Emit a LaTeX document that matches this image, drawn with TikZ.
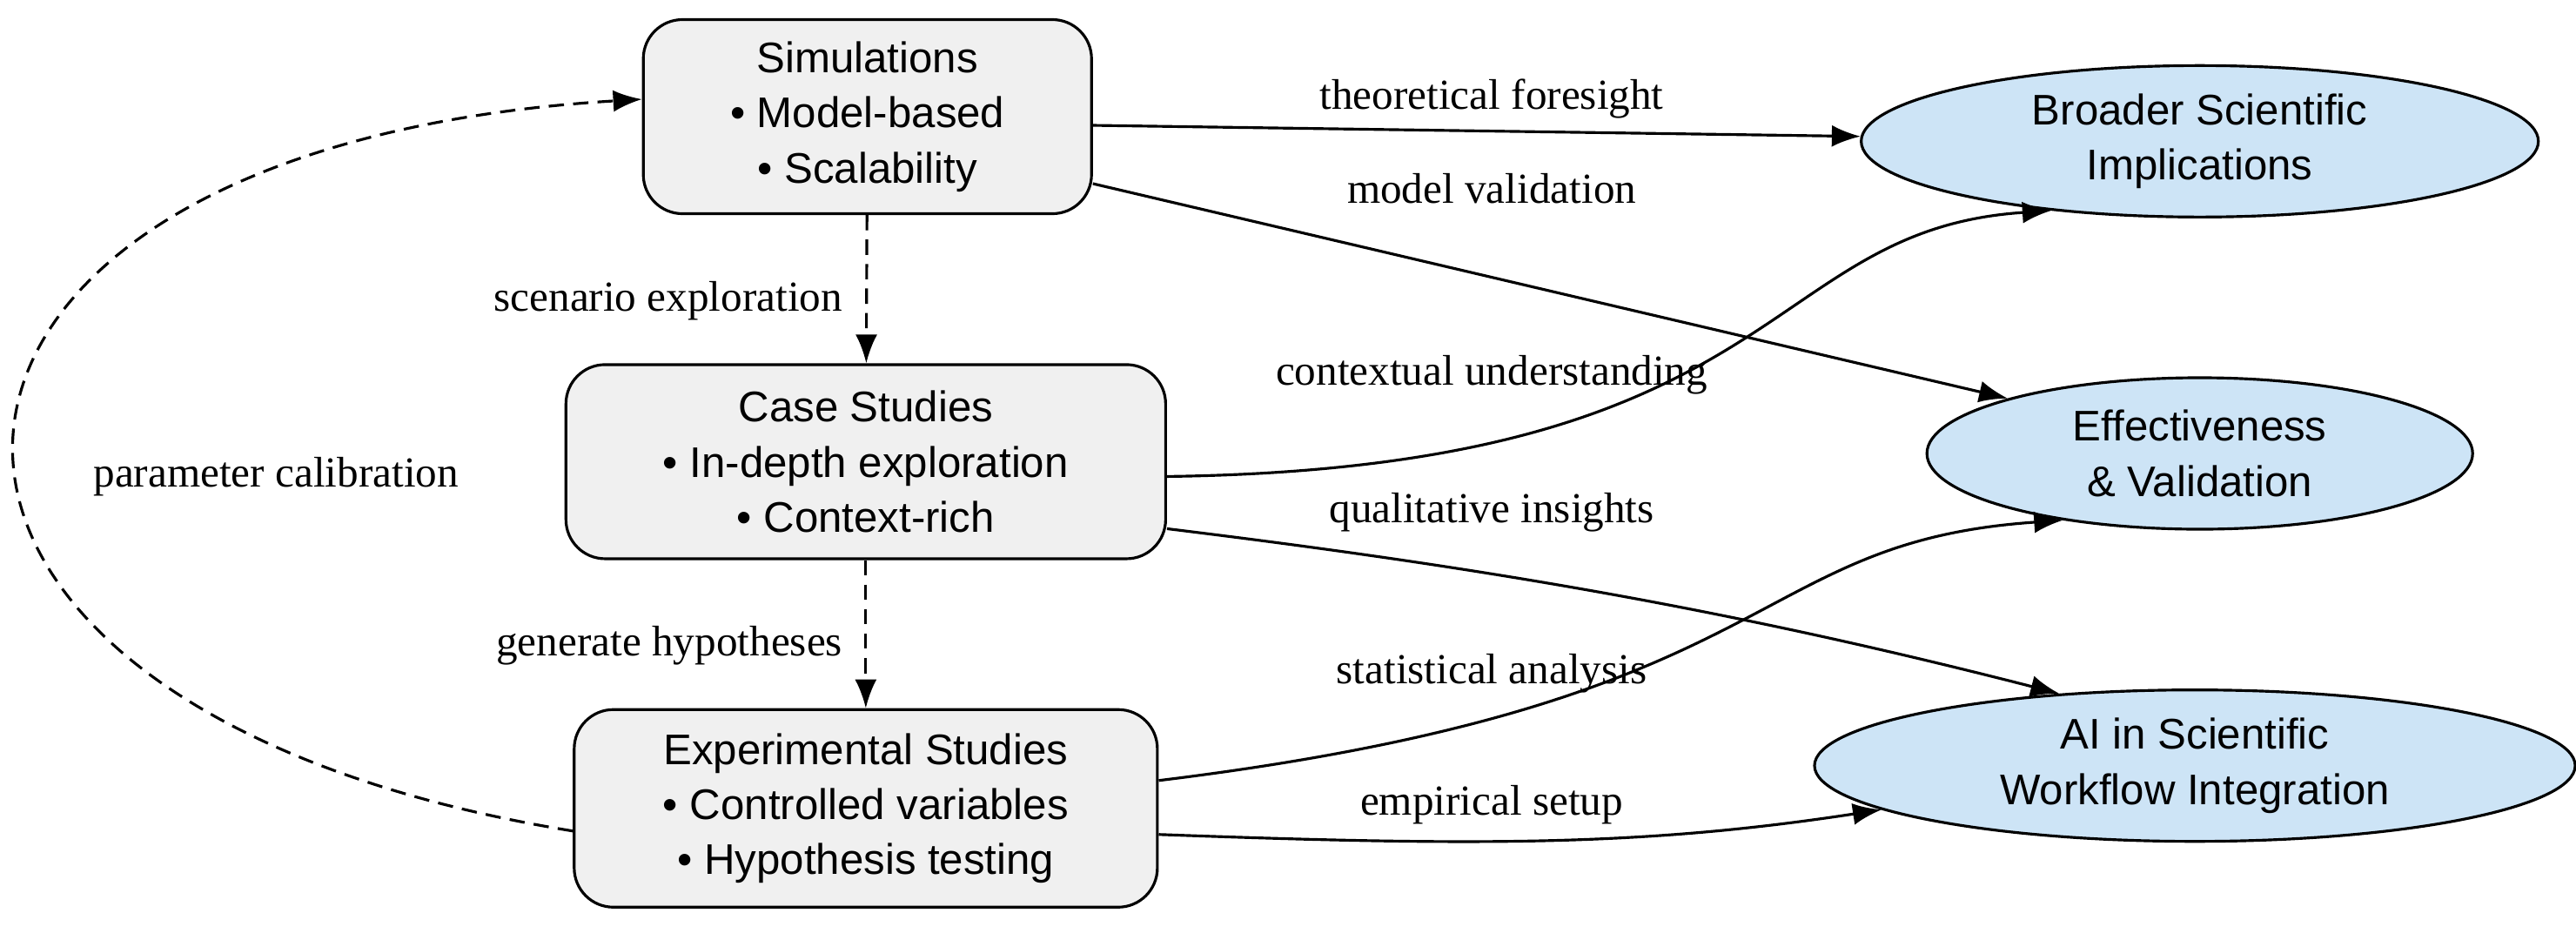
\documentclass[tikz,border=0pt]{standalone}
\usepackage{fontspec}
\usetikzlibrary{shapes.geometric,arrows.meta}
\setmainfont{Liberation Serif}
\newfontfamily\sansf{Liberation Sans}
\begin{document}
\begin{tikzpicture}[x=0.01888cm,y=-0.01888cm,
  box/.style={draw=black,line width=0.9pt,rounded corners=0.45cm,fill=gray!12,align=center,font=\sansf\fontsize{14}{18}\selectfont,inner sep=0pt},
  ell/.style={ellipse,draw=black,line width=0.9pt,align=center,font=\sansf\fontsize{14}{18}\selectfont,inner sep=0pt},
  lab/.style={font=\fontsize{14}{16}\selectfont,inner sep=1pt},
  arr/.style={-{Latex[length=0.33cm,width=0.25cm]},line width=0.9pt},
  dasharr/.style={arr,dash pattern=on 5pt off 3pt}]
\useasboundingbox (0,0) rectangle (1568,572);
\definecolor{ellfill}{RGB}{205,228,246}
\node[box,minimum width=5.15cm,minimum height=2.23cm] (sim) at (528,71) {Simulations\\ • Model-based\\ • Scalability};
\node[box,minimum width=6.89cm,minimum height=2.23cm] (case) at (527,281) {Case Studies\\ • In-depth exploration\\ • Context-rich};
\node[box,minimum width=6.70cm,minimum height=2.27cm] (exp) at (527,492) {Experimental Studies\\ • Controlled variables\\ • Hypothesis testing};
\node[ell,fill=ellfill,minimum width=7.78cm,minimum height=1.74cm] (bro) at (1339,86) {Broader Scientific\\Implications};
\node[ell,fill=ellfill,minimum width=6.27cm,minimum height=1.74cm] (eff) at (1339,276) {Effectiveness\\ \& Validation};
\node[ell,fill=ellfill,minimum width=8.74cm,minimum height=1.74cm] (ai) at (1336,466) {AI in Scientific\\Workflow Integration};

\draw[arr] ([yshift=-0.1cm]sim.east) -- (bro);
\node[lab] at (908,60) {theoretical foresight};
\draw[arr] ([yshift=-0.77cm]sim.east) -- (eff.164);
\node[lab] at (908,115) {model validation};
\draw[dasharr] (sim) -- (case);
\node[lab,anchor=east] at (515,183) {scenario exploration};
\draw[dasharr] (case) -- (exp);
\node[lab,anchor=east] at (515,393) {generate hypotheses};
\draw[arr] ([yshift=-0.17cm]case.east) .. controls (1090,285) and (1070,140) .. (bro.205);
\node[lab] at (908,228) {contextual understanding};
\draw[arr] ([yshift=-0.77cm]case.east) .. controls (900,345) and (1050,370) .. (ai.152);
\node[lab] at (908,312) {qualitative insights};
\draw[arr] ([yshift=0.32cm]exp.east) .. controls (1090,428) and (1060,330) .. (eff.206);
\node[lab] at (908,410) {statistical analysis};
\draw[arr] ([yshift=-0.3cm]exp.east) .. controls (900,515) and (1000,515) .. (ai.188);
\node[lab] at (908,490) {empirical setup};
\draw[dasharr] ([yshift=-0.26cm]exp.west) .. controls (-120,430) and (-100,90) .. ([yshift=0.2cm]sim.west);
\node[lab] at (168,290) {parameter calibration};
\end{tikzpicture}
\end{document}
